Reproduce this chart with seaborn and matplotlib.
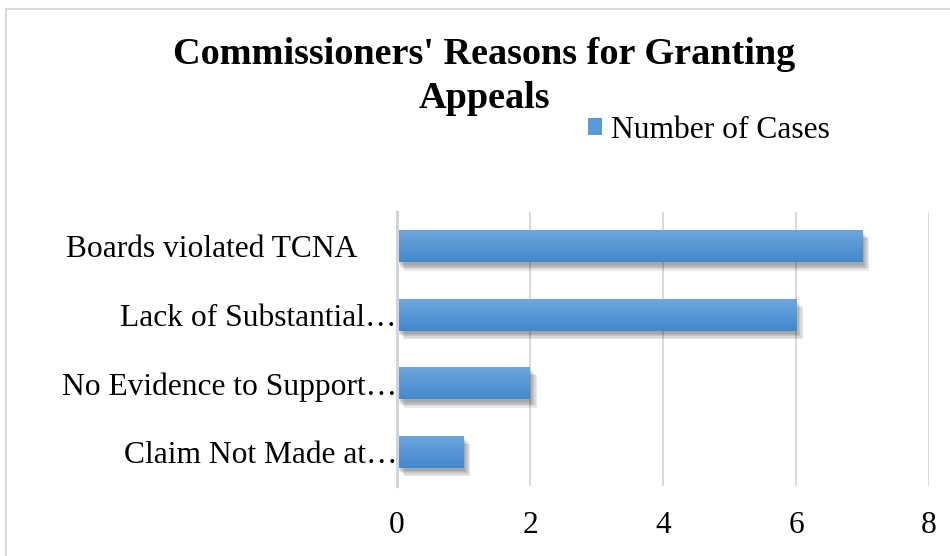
import numpy as np
import pandas as pd
import seaborn as sns
import matplotlib
matplotlib.use("Agg")
import matplotlib.pyplot as plt
from matplotlib import patheffects as pe
from matplotlib import transforms as mtrans
from matplotlib.patches import Rectangle, Patch

# ---- data ----
categories = ["Boards violated TCNA", "Lack of Substantial\u2026",
              "No Evidence to Support\u2026", "Claim Not Made at\u2026"]
values = [7, 6, 2, 1]
series_name = "Number of Cases"
x_ticks = [0, 2, 4, 6, 8]
title = "Commissioners' Reasons for Granting\nAppeals"

sns.set_theme(style="white")
plt.rcParams["font.family"] = ["Liberation Serif", "DejaVu Serif"]
plt.rcParams["text.color"] = "black"
plt.rcParams["axes.labelcolor"] = "black"

fig = plt.figure(figsize=(9.5, 5.56), dpi=100)
ax = fig.add_axes([397 / 950, 1 - 486 / 556, 532 / 950, 274 / 556])

df = pd.DataFrame({"Reason": categories, series_name: values})
sns.barplot(data=df, x=series_name, y="Reason", orient="h", color="#5b9bd5",
            width=0.47, ax=ax, saturation=1, linewidth=0, edgecolor="none")

ax.set_xlim(0, 8)
ax.set_xticks(x_ticks)
ax.set_ylim(3.5, -0.5)
ax.set_xlabel("")
ax.set_ylabel("")
ax.xaxis.grid(True, color="#d9d9d9", lw=1.4)
ax.yaxis.grid(False)
ax.set_axisbelow(True)
for s in ["top", "right", "bottom"]:
    ax.spines[s].set_visible(False)
ax.spines["left"].set_color("#d4d4d4")
ax.spines["left"].set_linewidth(2.2)
ax.tick_params(axis="both", length=0, labelsize=22.7, colors="black")
ax.tick_params(axis="x", pad=18)
ax.tick_params(axis="y", pad=0)

# gradient fill + soft shadow
top_c = np.array([110, 167, 223]) / 255
bot_c = np.array([66, 137, 204]) / 255
grad = np.linspace(0, 1, 64)[:, None, None]
grad_img = top_c[None, None, :] * (1 - grad) + bot_c[None, None, :] * grad
shadows = [pe.SimplePatchShadow(offset=(o, -o - 1), shadow_rgbFace="k", alpha=0.09)
           for o in (1, 2, 3, 4, 5)]
for p in list(ax.patches):
    x0, y0, w, h = p.get_x(), p.get_y(), p.get_width(), p.get_height()
    p.set_path_effects(shadows + [pe.Normal()])
    im = ax.imshow(grad_img, extent=(x0, x0 + w, y0 + h, y0), origin="upper",
                   aspect="auto", zorder=p.get_zorder() + 0.1, interpolation="bilinear")
    im.set_clip_path(p)
ax.set_xlim(0, 8)
ax.set_ylim(3.5, -0.5)

# shift first category label left like the reference
lbl = ax.get_yticklabels()[0]
lbl.set_transform(lbl.get_transform() + mtrans.ScaledTranslation(-40 / 100, 0, fig.dpi_scale_trans))

fig.text(484 / 950, 1 - 37 / 556, title, ha="center", va="top", fontsize=27.5,
         fontweight="bold", linespacing=1.35, color="black")

fig.legend(handles=[Patch(facecolor="#5b9bd5", edgecolor="none")], labels=[series_name],
           loc="center", bbox_to_anchor=(709 / 950, 1 - 130 / 556), frameon=False,
           fontsize=22.7, handlelength=0.45, handleheight=0.45, handletextpad=0.3,
           labelcolor="black")

fig.add_artist(Rectangle((6 / 950, -0.1), 2, (1 - 9 / 556) + 0.1, transform=fig.transFigure,
                         fill=False, ec="#d9d9d9", lw=1.5))

fig.savefig("out.png", dpi=100)
